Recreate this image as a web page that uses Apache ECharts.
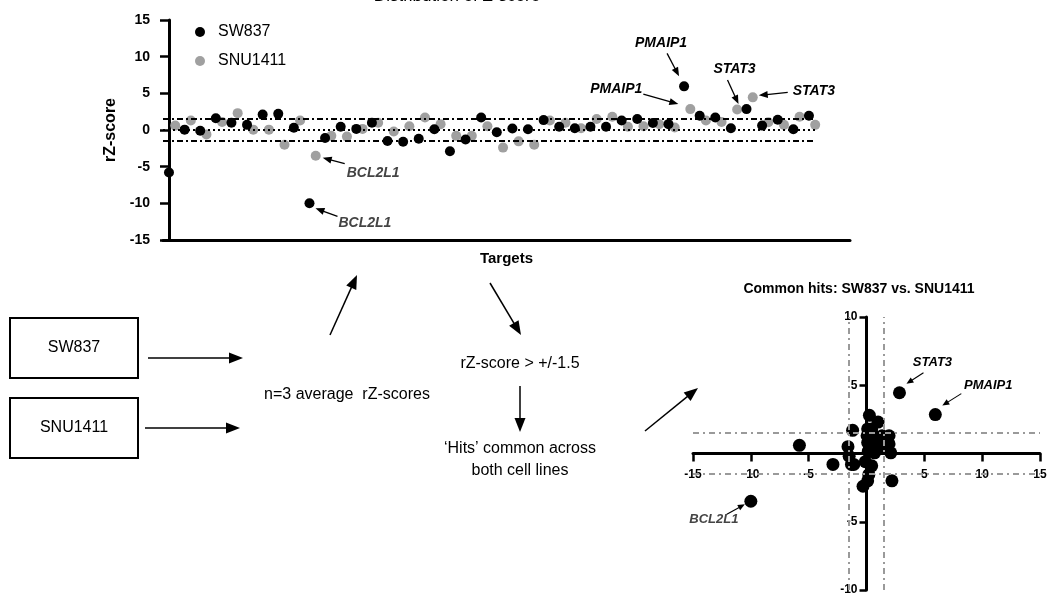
<!DOCTYPE html>
<html><head><meta charset="utf-8">
<script src="https://cdn.jsdelivr.net/npm/echarts/dist/echarts.min.js"></script>
<style>html,body{margin:0;padding:0;background:#fff}#c{width:1050px;height:596px}</style>
</head><body><div id="c"></div>
<script>
// ---------- DATA ----------
const sw837 = [-5.8, 0.05, -0.1, 1.6, 1.0, 0.7, 2.1, 2.2, 0.3, -10.0,
  -1.1, 0.45, 0.15, 1.0, -1.5, -1.6, -1.2, 0.1, -2.9, -1.3,
  1.7, -0.3, 0.2, 0.1, 1.35, 0.45, 0.25, 0.45, 0.45, 1.3,
  1.5, 0.95, 0.8, 5.95, 1.95, 1.7, 0.25, 2.85, 0.6, 1.4,
  0.1, 1.95];
const snu1411 = [0.6, 1.3, -0.6, 1.1, 2.3, 0.05, 0.05, -2.0, 1.3, -3.5,
  -0.8, -0.9, 0.15, 1.0, -0.2, 0.5, 1.7, 0.8, -0.8, -0.8,
  0.5, -2.4, -1.55, -2.0, 1.3, 1.0, 0.25, 1.5, 1.8, 0.45,
  0.5, 0.8, 0.35, 2.85, 1.3, 1.1, 2.8, 4.45, 1.05, 0.7,
  1.8, 0.7];
const seriesNames = ['SW837', 'SNU1411'];
const hitThreshold = 1.5;
const topYRange = [-15, 15];
const scatterXRange = [-15, 15];
const scatterYRange = [-10, 10];
const tickStep = 5;
const hiddenTickLabels = [0];
const geneHits = { BCL2L1: 9, PMAIP1: 33, STAT3: 37 };

// ---------- LAYOUT / STYLE ----------
const F = '"Liberation Sans", Arial, Helvetica, sans-serif';
const GRAY = '#a0a0a0';
const pairOffset = 0.4;          // gray dot drawn just right of black dot
const topXMin = -0.384, topXMax = 43.63, topLineEnd = 41.45;
const sc = { left: 693, right: 10, top: 317, bottom: 6 };
const scW = 1050 - sc.left - sc.right, scH = 596 - sc.top - sc.bottom;
// shift scatter axes so they cross at the origin
const xAxisOffset = -((0 - scatterYRange[0]) / (scatterYRange[1] - scatterYRange[0])) * scH;
const yAxisOffset = -((0 - scatterXRange[0]) / (scatterXRange[1] - scatterXRange[0])) * scW;

const chart = echarts.init(document.getElementById('c'), null, { renderer: 'canvas' });

const fmt = v => hiddenTickLabels.includes(v) ? '' : String(v);

const option = {
  animation: false,
  backgroundColor: '#fff',
  textStyle: { fontFamily: F },
  legend: {
    data: seriesNames, orient: 'vertical', left: 190, top: 19,
    icon: 'circle', itemWidth: 10, itemHeight: 10, itemGap: 13,
    selectedMode: false,
    textStyle: { fontSize: 16, color: '#000', fontFamily: F, padding: [0, 0, 0, 8], lineHeight: 16 }
  },
  grid: [
    { left: 163, right: 200, top: 20, bottom: 356, containLabel: false, outerBoundsMode: 'none' },
    { left: sc.left, right: sc.right, top: sc.top, bottom: sc.bottom, containLabel: false, outerBoundsMode: 'none' }
  ],
  xAxis: [
    { gridIndex: 0, type: 'value', min: topXMin, max: topXMax,
      axisLine: { onZero: false, lineStyle: { color: '#000', width: 3 } },
      axisTick: { show: false }, axisLabel: { show: false }, splitLine: { show: false },
      name: 'Targets', nameLocation: 'middle', nameGap: 11,
      nameTextStyle: { fontSize: 15, fontWeight: 'bold', color: '#000', fontFamily: F } },
    { gridIndex: 1, type: 'value', min: scatterXRange[0], max: scatterXRange[1], interval: tickStep,
      position: 'bottom', offset: xAxisOffset,
      axisLine: { onZero: false, lineStyle: { color: '#000', width: 3 } },
      axisTick: { length: 8, lineStyle: { width: 2.5, color: '#000' } },
      axisLabel: { formatter: fmt, fontSize: 12, fontWeight: 'bold', color: '#000', margin: 15, fontFamily: F },
      splitLine: { show: false } }
  ],
  yAxis: [
    { gridIndex: 0, type: 'value', min: topYRange[0], max: topYRange[1], interval: tickStep,
      axisLine: { show: true, lineStyle: { color: '#000', width: 3 } },
      axisTick: { show: true, length: 9, lineStyle: { width: 2.5, color: '#000' } },
      axisLabel: { fontSize: 14, fontWeight: 'bold', color: '#000', margin: 13, fontFamily: F },
      splitLine: { show: false },
      name: 'rZ-score', nameLocation: 'middle', nameGap: 41, nameRotate: 90,
      nameTextStyle: { fontSize: 16, fontWeight: 'bold', color: '#000', fontFamily: F } },
    { gridIndex: 1, type: 'value', min: scatterYRange[0], max: scatterYRange[1], interval: tickStep,
      position: 'left', offset: yAxisOffset,
      axisLine: { show: true, onZero: false, lineStyle: { color: '#000', width: 3 } },
      axisTick: { show: true, length: 7, lineStyle: { width: 2.5, color: '#000' } },
      axisLabel: { formatter: fmt, fontSize: 12, fontWeight: 'bold', color: '#000', margin: 9, fontFamily: F },
      splitLine: { show: false } }
  ],
  series: [
    { type: 'scatter', xAxisIndex: 0, yAxisIndex: 0, data: [], z: 1, silent: true,
      markLine: { silent: true, symbol: ['none', 'none'], label: { show: false },
        lineStyle: { color: '#000', width: 2, type: [6, 3, 2, 3] },
        data: [hitThreshold, -hitThreshold].map(t => [{ coord: [topXMin, t] }, { coord: [topLineEnd, t] }]) } },
    { type: 'scatter', xAxisIndex: 0, yAxisIndex: 0, data: [], z: 1, silent: true,
      markLine: { silent: true, symbol: ['none', 'none'], label: { show: false },
        lineStyle: { color: '#000', width: 2, type: [2, 3] },
        data: [[{ coord: [topXMin, 0] }, { coord: [topLineEnd, 0] }]] } },
    { name: seriesNames[0], type: 'scatter', xAxisIndex: 0, yAxisIndex: 0, z: 3,
      symbolSize: 10, itemStyle: { color: '#000', opacity: 1 },
      data: sw837.map((v, i) => [i, v]) },
    { name: seriesNames[1], type: 'scatter', xAxisIndex: 0, yAxisIndex: 0, z: 2,
      symbolSize: 10, itemStyle: { color: GRAY, opacity: 1 },
      data: snu1411.map((v, i) => [i + pairOffset, v]) },
    { type: 'scatter', xAxisIndex: 1, yAxisIndex: 1, data: [], z: 1, silent: true,
      markLine: { silent: true, symbol: ['none', 'none'], label: { show: false },
        lineStyle: { color: '#9a9a9a', width: 2, type: [6, 4, 2, 4] },
        data: [{ yAxis: hitThreshold }, { yAxis: -hitThreshold }, { xAxis: hitThreshold }, { xAxis: -hitThreshold }] } },
    { name: 'common', type: 'scatter', xAxisIndex: 1, yAxisIndex: 1, z: 3,
      symbolSize: 13, itemStyle: { color: '#000', opacity: 1 },
      data: sw837.map((v, i) => [v, snu1411[i]]) }
  ]
};
chart.setOption(option);

// ---------- ANNOTATIONS & DIAGRAM ----------
function arrowEls(x1, y1, x2, y2, head, hw, lw, color) {
  const dx = x2 - x1, dy = y2 - y1, L = Math.hypot(dx, dy), ux = dx / L, uy = dy / L;
  const bx = x2 - ux * head, by = y2 - uy * head, px = -uy, py = ux;
  return [
    { type: 'line', silent: true, shape: { x1: x1, y1: y1, x2: bx + ux, y2: by + uy }, style: { stroke: color, lineWidth: lw } },
    { type: 'polygon', silent: true, shape: { points: [[x2, y2], [bx + px * hw / 2, by + py * hw / 2], [bx - px * hw / 2, by - py * hw / 2]] }, style: { fill: color } }
  ];
}
function textEl(x, y, text, size, opts) {
  opts = opts || {};
  return { type: 'text', silent: true, x: x, y: y, z: 10,
    style: { text: text, fontSize: size, fontFamily: F, fontWeight: opts.weight || 'normal',
      fontStyle: opts.style || 'normal', fill: opts.color || '#000',
      align: opts.align || 'center', verticalAlign: opts.valign || 'middle' } };
}

const g = [];
g.push(textEl(457, 5, 'Distribution of Z-score', 17, { valign: 'bottom' }));

const topNotes = [
  { gene: 'BCL2L1', s: 0, tip: [6, 5], tail: [28, 13], label: [29, 20], align: 'left', color: '#444' },
  { gene: 'BCL2L1', s: 1, tip: [7, 2], tail: [29, 8], label: [31, 17], align: 'left', color: '#444' },
  { gene: 'PMAIP1', s: 0, tip: [-5, -10], tail: [-17, -33], label: [-23, -43], align: 'center', color: '#000' },
  { gene: 'PMAIP1', s: 1, tip: [-12, -5], tail: [-47, -15], label: [-48, -20], align: 'right', color: '#000' },
  { gene: 'STAT3', s: 0, tip: [-8, -5], tail: [-19, -29], label: [-12, -40], align: 'center', color: '#000' },
  { gene: 'STAT3', s: 1, tip: [6, -2], tail: [35, -5], label: [40, -6], align: 'left', color: '#000' }
];
topNotes.forEach(n => {
  const i = geneHits[n.gene];
  const pt = n.s === 0 ? [i, sw837[i]] : [i + pairOffset, snu1411[i]];
  const p = chart.convertToPixel({ xAxisIndex: 0, yAxisIndex: 0 }, pt);
  g.push(...arrowEls(p[0] + n.tail[0], p[1] + n.tail[1], p[0] + n.tip[0], p[1] + n.tip[1], 9, 7, 1.3, '#000'));
  g.push(textEl(p[0] + n.label[0], p[1] + n.label[1], n.gene, 14, { weight: 'bold', style: 'italic', align: n.align, color: n.color }));
});

const scNotes = [
  { gene: 'STAT3', tip: [7, -9], tail: [24, -20], label: [33, -30], color: '#000' },
  { gene: 'PMAIP1', tip: [7, -9], tail: [26, -21], label: [53, -29], color: '#000' },
  { gene: 'BCL2L1', tip: [-6, 3], tail: [-24, 13], label: [-37, 18], color: '#444' }
];
scNotes.forEach(n => {
  const i = geneHits[n.gene];
  const p = chart.convertToPixel({ xAxisIndex: 1, yAxisIndex: 1 }, [sw837[i], snu1411[i]]);
  g.push(...arrowEls(p[0] + n.tail[0], p[1] + n.tail[1], p[0] + n.tip[0], p[1] + n.tip[1], 7, 6, 1.1, '#000'));
  g.push(textEl(p[0] + n.label[0], p[1] + n.label[1], n.gene, 13, { weight: 'bold', style: 'italic', color: n.color }));
});

g.push(textEl(859, 289, 'Common hits: SW837 vs. SNU1411', 14, { weight: 'bold' }));

g.push({ type: 'rect', silent: true, shape: { x: 10, y: 318, width: 128, height: 60 }, style: { fill: '#fff', stroke: '#000', lineWidth: 2 } });
g.push({ type: 'rect', silent: true, shape: { x: 10, y: 398, width: 128, height: 60 }, style: { fill: '#fff', stroke: '#000', lineWidth: 2 } });
g.push(textEl(74, 348, 'SW837', 16));
g.push(textEl(74, 428, 'SNU1411', 16));
g.push(...arrowEls(148, 358, 243, 358, 14, 11, 1.5, '#000'));
g.push(...arrowEls(145, 428, 240, 428, 14, 11, 1.5, '#000'));
g.push(textEl(347, 395, 'n=3 average  rZ-scores', 16));
g.push(...arrowEls(330, 335, 357, 275, 14, 11, 1.5, '#000'));
g.push(...arrowEls(490, 283, 521, 335, 14, 11, 1.5, '#000'));
g.push(textEl(520, 364, 'rZ-score > +/-1.5', 16));
g.push(...arrowEls(520, 386, 520, 432, 14, 11, 1.5, '#000'));
g.push(textEl(520, 449, '\u2018Hits\u2019 common across', 16));
g.push(textEl(520, 471, 'both cell lines', 16));
g.push(...arrowEls(645, 431, 698, 388, 14, 11, 1.5, '#000'));

chart.setOption({ graphic: g });
</script>
</body></html>
